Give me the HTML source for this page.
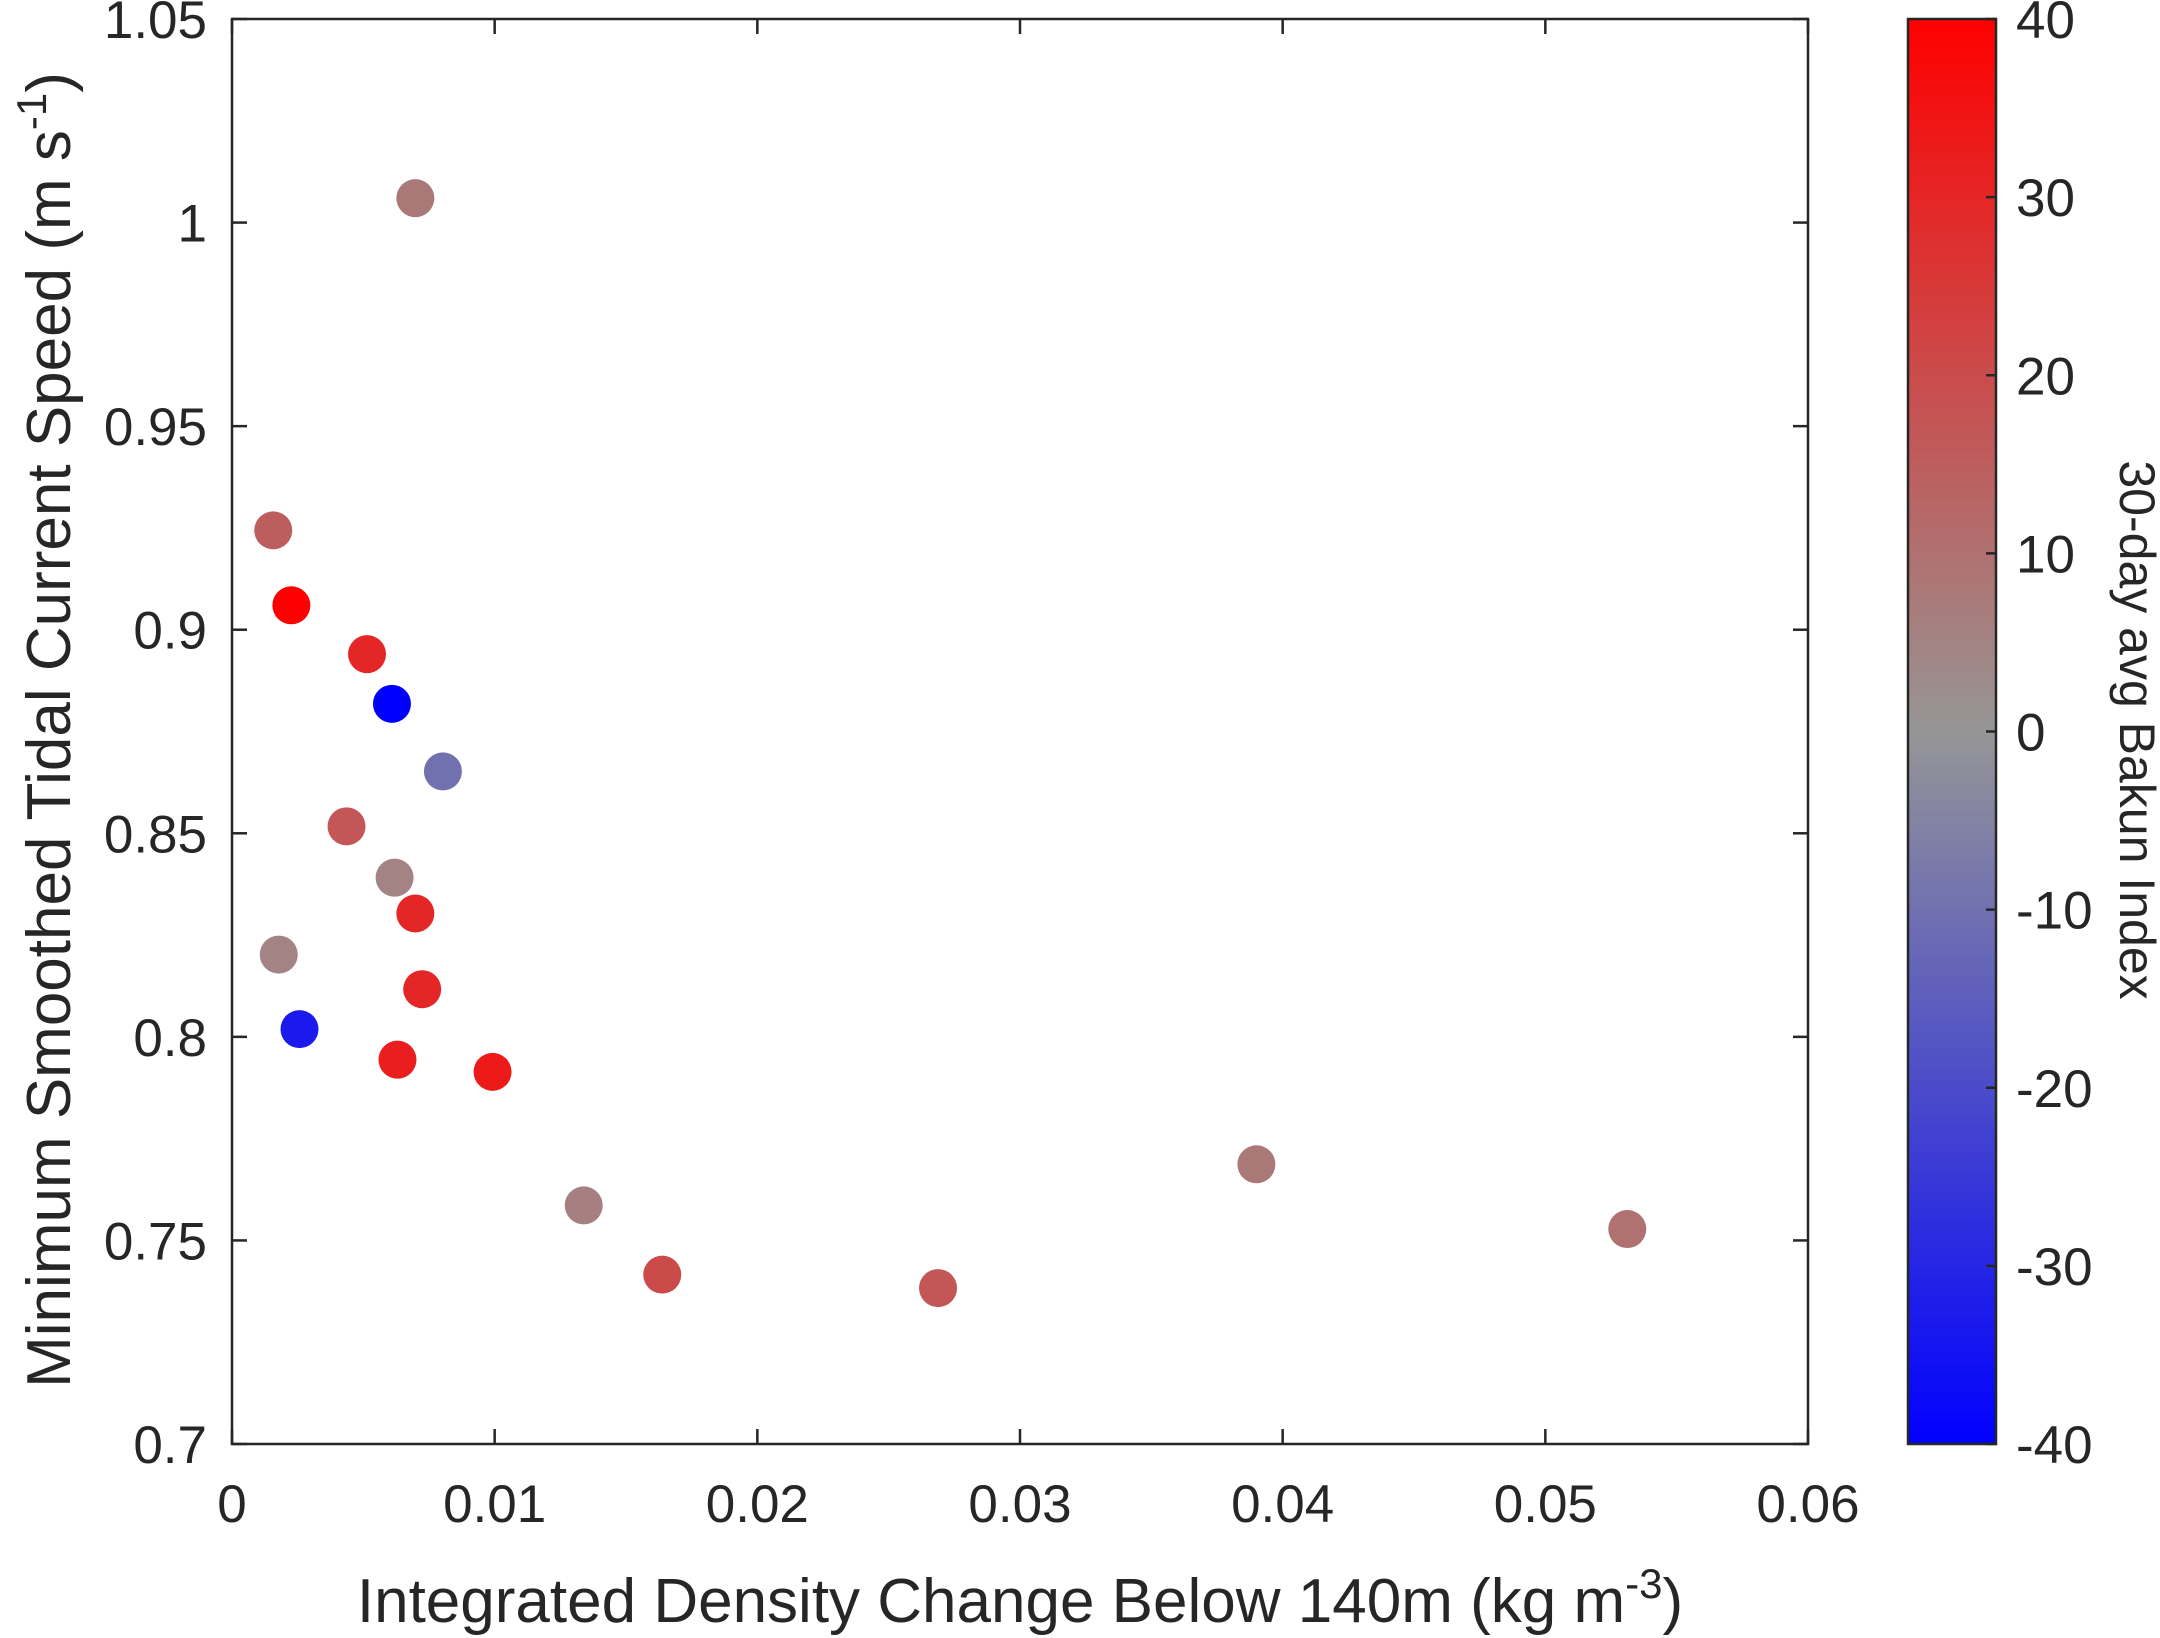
<!DOCTYPE html>
<html><head><meta charset="utf-8"><style>
html,body{margin:0;padding:0;background:#fff}
svg{display:block;font-family:"Liberation Sans",Arial,sans-serif}
</style></head><body>
<svg id="chart" width="2160" height="1638" viewBox="0 0 2160 1638" xmlns="http://www.w3.org/2000/svg">
<defs>
<linearGradient id="cbgrad" x1="0" y1="1" x2="0" y2="0">
<stop offset="0" stop-color="rgb(0,0,255)"/>
<stop offset="0.5" stop-color="rgb(150,150,150)"/>
<stop offset="1" stop-color="rgb(255,0,0)"/>
</linearGradient>
</defs>
<g id="plot"></g>
</svg>
<script>
const xValues=[0.00698,0.00157,0.00226,0.00514,0.00609,0.00803,0.00436,0.00619,0.00698,0.00178,0.00724,0.00257,0.0063,0.00992,0.01339,0.01638,0.02688,0.039,0.05312];
const yValues=[1.006,0.9244,0.906,0.894,0.8818,0.8652,0.8517,0.8391,0.8303,0.8202,0.8117,0.8019,0.7944,0.7914,0.7586,0.7416,0.7383,0.7687,0.7528];
const bakunValues=[8,15,40,30,-40,-10,17,5,30,5,30,-33,32,33,6,20,17,8,10];
const xTicks=[0,0.01,0.02,0.03,0.04,0.05,0.06];
const xTickLabels=["0","0.01","0.02","0.03","0.04","0.05","0.06"];
const yTicks=[0.7,0.75,0.8,0.85,0.9,0.95,1,1.05];
const yTickLabels=["0.7","0.75","0.8","0.85","0.9","0.95","1","1.05"];
const cTicks=[-40,-30,-20,-10,0,10,20,30,40];
const cTickLabels=["-40","-30","-20","-10","0","10","20","30","40"];

const L=232,R=1808,T=19,B=1444;
const CL=1908,CR=1996;
const sx=v=>L+(v-0)/(0.06-0)*(R-L);
const sy=v=>B-(v-0.7)/(1.05-0.7)*(B-T);
const sc=v=>B-(v+40)/80*(B-T);
function color(v){
  const t=Math.max(-1,Math.min(1,v/40));
  let r,g,b;
  if(t>=0){r=150+105*t;g=150-150*t;b=150-150*t;}
  else{const u=-t;r=150-150*u;g=150-150*u;b=150+105*u;}
  return `rgb(${Math.round(r)},${Math.round(g)},${Math.round(b)})`;
}
const NS="http://www.w3.org/2000/svg";
const g=document.getElementById('plot');
function mk(tag,attrs,parent){const e=document.createElementNS(NS,tag);for(const k in attrs)e.setAttribute(k,attrs[k]);(parent||g).appendChild(e);return e;}

const frame=mk('rect',{x:L,y:T,width:R-L,height:B-T,fill:'#fff',stroke:'#262626','stroke-width':2.5});



xTicks.forEach((v,i)=>{
  const x=sx(v);
  const t1=mk('line',{x1:x,y1:B,x2:x,y2:B-15,stroke:'#262626','stroke-width':2.5});
  
  
  const t2=mk('line',{x1:x,y1:T,x2:x,y2:T+15,stroke:'#262626','stroke-width':2.5});
  
  
  const tx=mk('text',{x:x,y:1522,'text-anchor':'middle','font-size':53,fill:'#262626'});
  tx.textContent=xTickLabels[i];
  
  
});
yTicks.forEach((v,i)=>{
  const y=sy(v);
  const t1=mk('line',{x1:L,y1:y,x2:L+15,y2:y,stroke:'#262626','stroke-width':2.5});
  
  
  const t2=mk('line',{x1:R,y1:y,x2:R-15,y2:y,stroke:'#262626','stroke-width':2.5});
  
  
  const tx=mk('text',{x:207,y:y+19,'text-anchor':'end','font-size':53,fill:'#262626'});
  tx.textContent=yTickLabels[i];
  
  
});

xValues.forEach((xv,i)=>{
  const c=mk('circle',{cx:sx(xv),cy:sy(yValues[i]),r:19,fill:color(bakunValues[i])});
  
  
});

const cb=mk('rect',{x:CL,y:T,width:CR-CL,height:B-T,fill:'url(#cbgrad)',stroke:'#262626','stroke-width':2.5});


cTicks.forEach((v,i)=>{
  const y=sc(v);
  const t1=mk('line',{x1:CR,y1:y,x2:CR-10,y2:y,stroke:'#262626','stroke-width':2.5});
  
  
  const tx=mk('text',{x:2016,y:y+19,'text-anchor':'start','font-size':53,fill:'#262626'});
  tx.textContent=cTickLabels[i];
  
  
});

const xl=mk('text',{x:1020,y:1622,'text-anchor':'middle','font-size':62,fill:'#262626'});
xl.innerHTML='Integrated Density Change Below 140m (kg m<tspan dy="-24" font-size="42">-3</tspan><tspan dy="24">)</tspan>';



const yl=mk('text',{x:0,y:0,'text-anchor':'middle','font-size':62,fill:'#262626',transform:'translate(70,730) rotate(-90)'});
yl.innerHTML='Minimum Smoothed Tidal Current Speed (m s<tspan dy="-24" font-size="42">-1</tspan><tspan dy="24">)</tspan>';



const cl=mk('text',{x:0,y:0,'text-anchor':'middle','font-size':50,fill:'#262626',transform:'translate(2120,730) rotate(90)'});
cl.textContent='30-day avg Bakun Index';


</script>
</body></html>
